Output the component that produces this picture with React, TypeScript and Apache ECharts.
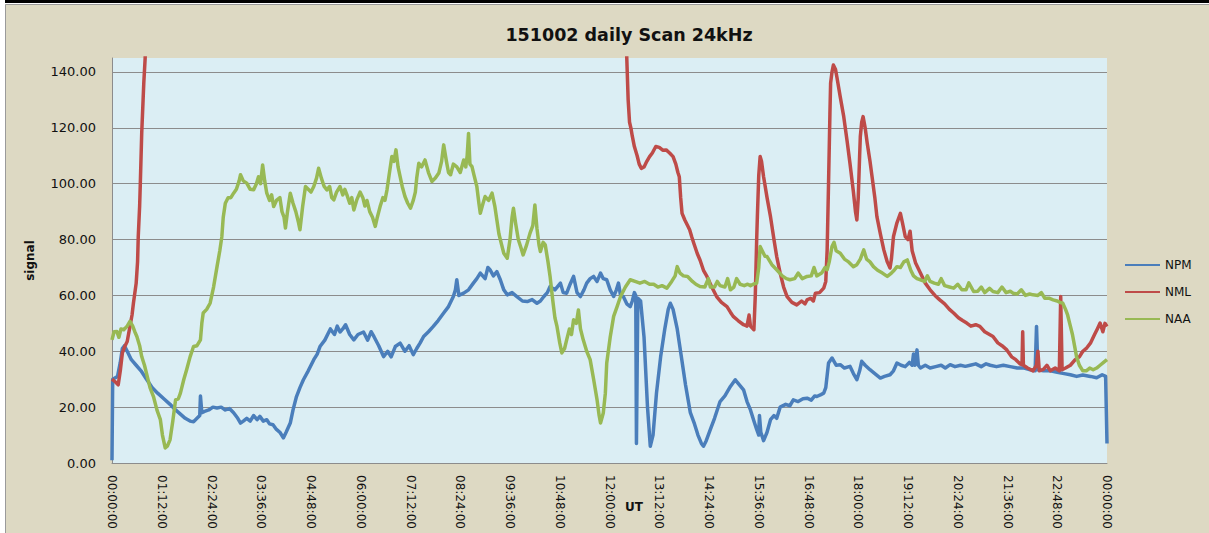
import React, { useEffect, useRef } from "react";
import * as echarts from "echarts";

const chartTitle = "151002 daily Scan 24kHz";
const xAxisTitle = "UT";
const yAxisTitle = "signal";
const seriesNames = ["NPM", "NML", "NAA"];
const seriesColors = ["#4A7EBB", "#BE4B48", "#98B954"];

// time in minutes after 00:00:00 UT, signal value
const npmData: [number, number][] = [
  [0, 1], [1, 30], [8, 31], [12, 36], [15, 41], [18, 42], [22, 40], [28, 37], [35, 35], [42, 33], [50, 30], [58, 27], [66, 25], [75, 23], [84, 21], [92, 19], [99, 17.5], [106, 16], [113, 15], [118, 14.8], [123, 16], [127, 17], [128, 24], [130, 18], [134, 18.5], [140, 19], [146, 20], [152, 19.7], [158, 20], [164, 19], [170, 19.5], [176, 18], [182, 16], [186, 14.3], [190, 15], [195, 16], [200, 15], [205, 17], [210, 15.5], [214, 16.7], [219, 15], [224, 15.5], [228, 14], [233, 13.7], [238, 12], [243, 11], [248, 9], [252, 11], [258, 14.3], [262, 19], [267, 23.8], [272, 27], [277, 29.8], [284, 33], [292, 37], [297, 39], [301, 41.7], [308, 44], [316, 48], [322, 46], [326, 49], [330, 46.9], [334, 48], [338, 49.5], [344, 46], [350, 44.1], [356, 46], [364, 46.9], [370, 44], [375, 47], [379, 45.3], [386, 42], [393, 38.1], [399, 40], [404, 38], [410, 41.7], [417, 42.9], [424, 40], [430, 42], [436, 38.8], [441, 41], [446, 43], [451, 45.3], [458, 47], [465, 48.9], [472, 51], [480, 53.7], [487, 56], [494, 59.6], [497, 62], [499, 65.6], [502, 60], [509, 60.8], [516, 62], [523, 64.4], [528, 66], [533, 68], [540, 66], [544, 70], [547, 69.2], [552, 67], [557, 68.5], [562, 65.6], [567, 62], [572, 60.2], [579, 61], [586, 59.6], [594, 58], [601, 57.8], [608, 58.5], [615, 57.2], [620, 58], [625, 59.6], [630, 61], [634, 63.2], [641, 62], [649, 64.4], [653, 61], [658, 60.8], [663, 64], [668, 66.8], [673, 61], [678, 59.6], [683, 62], [687, 64.4], [692, 66], [697, 66.8], [702, 65], [707, 68], [711, 66], [716, 65.6], [721, 62], [726, 59.6], [730, 62], [733, 64.4], [736, 60], [740, 59.6], [745, 57], [750, 56], [753, 58], [756, 61], [758, 60], [759, 7], [760, 7], [761, 59], [765, 58], [770, 45], [775, 20], [779, 6], [783, 10], [788, 25], [794, 38], [800, 48], [805, 55], [808, 57.2], [812, 55], [818, 48], [824, 38], [830, 28], [837, 18], [843, 14], [848, 10], [853, 7], [856, 6], [860, 8], [866, 12], [872, 16], [880, 22], [887, 24], [895, 27.4], [902, 29.8], [908, 28], [914, 26.2], [919, 22], [924, 19], [929, 15], [933, 12], [936, 10], [937, 17], [939, 11], [943, 8], [948, 11], [953, 15.5], [958, 17], [962, 16], [967, 20], [975, 21], [981, 20.5], [986, 22.6], [993, 22], [1000, 23], [1006, 23.2], [1012, 22.5], [1017, 24], [1020, 23.8], [1026, 24.5], [1030, 25], [1033, 27], [1037, 35.8], [1042, 37.6], [1048, 35], [1054, 35.2], [1060, 34], [1068, 34.6], [1073, 32], [1078, 29.8], [1082, 33], [1085, 36.4], [1090, 35], [1097, 33.4], [1104, 32], [1112, 30.4], [1118, 31], [1126, 31.6], [1131, 33], [1136, 35.8], [1142, 35], [1148, 34.5], [1154, 36], [1158, 35], [1160, 39], [1162, 35], [1165, 40.5], [1167, 35], [1170, 34], [1177, 35], [1184, 34], [1192, 34.5], [1200, 35], [1206, 34], [1213, 35.2], [1220, 34.5], [1228, 35], [1235, 34.6], [1242, 35], [1250, 35.5], [1258, 34.5], [1265, 35.5], [1271, 35], [1280, 34.5], [1290, 35], [1300, 34.5], [1310, 34], [1320, 34], [1329, 33.4], [1336, 33], [1338, 48.9], [1340, 33.4], [1348, 33], [1358, 33], [1368, 32.5], [1378, 32], [1387, 31.6], [1396, 31], [1405, 31.5], [1416, 31], [1425, 30.5], [1433, 31.6], [1438, 31], [1440, 7],
];

const nmlData: [number, number][] = [
  [0, 30], [5, 29], [9, 28], [12, 33], [15, 39.4], [19, 42], [22, 43.5], [26, 48.9], [29, 53], [31, 57.2], [35, 64.4], [37, 72], [38, 81.1], [40, 92], [41, 100.2], [43, 118], [45, 130], [46, 136], [48, 145], [50, 170], [55, 220], [735, 220], [742, 170], [745, 145], [747, 130], [749, 122], [751, 119.9], [753, 117], [756, 113.3], [760, 110], [763, 107], [766, 105.5], [770, 106], [774, 108], [778, 109.7], [782, 111], [787, 113.3], [792, 113], [797, 112], [802, 112.1], [807, 111], [812, 109.7], [816, 107], [819, 104], [821, 102.5], [823, 95], [825, 89.4], [829, 87], [833, 85], [836, 83.5], [839, 81], [842, 78.7], [847, 75], [851, 72.7], [856, 69], [861, 66.8], [868, 63], [875, 59.6], [882, 57.5], [890, 56], [895, 54], [899, 52.5], [906, 51], [914, 49.5], [919, 49], [922, 53], [924, 49], [929, 47.7], [931, 60], [933, 80], [934, 88.2], [936, 103], [938, 109.7], [940, 108], [943, 102.5], [948, 95], [953, 88.2], [958, 80], [962, 73.9], [967, 68], [972, 63], [977, 59.6], [984, 57.5], [991, 56.6], [998, 58], [1003, 57], [1006, 58.4], [1011, 59], [1015, 58], [1018, 60.8], [1024, 61], [1030, 62.6], [1033, 65], [1035, 76.3], [1037, 100], [1039, 125], [1040, 136], [1042, 140], [1044, 142.5], [1047, 141], [1049, 138.3], [1054, 131], [1059, 124], [1064, 115], [1068, 107.3], [1073, 97], [1076, 90], [1078, 87], [1080, 95], [1082, 110], [1083, 116.9], [1085, 122], [1087, 124], [1090, 120], [1093, 114.5], [1097, 108], [1100, 102.5], [1104, 95], [1107, 88.2], [1112, 82], [1117, 76.3], [1122, 72], [1126, 69.8], [1128, 73], [1131, 81.1], [1136, 86], [1141, 89.4], [1144, 86], [1148, 81.1], [1152, 80], [1155, 83], [1158, 76], [1163, 71.6], [1170, 68], [1177, 64.4], [1184, 62], [1191, 60], [1198, 58.4], [1205, 57], [1212, 55], [1218, 53.7], [1225, 52], [1231, 51], [1237, 50.1], [1243, 49], [1250, 49.5], [1256, 48.9], [1263, 47], [1270, 46], [1275, 45.3], [1282, 43], [1288, 42], [1295, 40.5], [1302, 38], [1308, 37], [1314, 35.5], [1317, 35.2], [1318, 47], [1319, 35], [1325, 34], [1333, 33], [1338, 35], [1340, 40], [1342, 33], [1348, 33.5], [1353, 35], [1358, 33], [1365, 34], [1371, 33], [1373, 59.6], [1375, 33.4], [1380, 34], [1387, 35], [1394, 37], [1400, 38], [1405, 40], [1410, 41], [1416, 42.9], [1422, 46], [1426, 48], [1430, 50.1], [1434, 47], [1437, 50], [1440, 48.9],
];

const naaData: [number, number][] = [
  [0, 44.1], [3, 47], [7, 47.1], [10, 45], [13, 48], [17, 47.7], [22, 49], [26, 50.7], [30, 49], [33, 47], [36, 45.3], [40, 42], [43, 38.1], [47, 35], [51, 31], [55, 27], [60, 23.8], [65, 19], [70, 15.5], [73, 10], [77, 5.4], [80, 6], [84, 8.3], [88, 15], [92, 22.6], [96, 23], [99, 25], [104, 30], [108, 33.4], [113, 38], [118, 41.7], [123, 42], [128, 44.1], [130, 50], [132, 53.7], [137, 55], [142, 57.2], [147, 63], [152, 70.3], [156, 76], [159, 81.1], [161, 88], [164, 93], [168, 95], [172, 95], [176, 96.6], [180, 98], [184, 101], [186, 103.2], [190, 101], [195, 100.2], [200, 98], [205, 97.8], [209, 100], [212, 102.5], [215, 100], [218, 106.7], [221, 101], [224, 96.6], [228, 94], [231, 96], [234, 91.8], [238, 94], [243, 95], [246, 90], [249, 88], [251, 84.1], [254, 90], [258, 96.6], [262, 93], [266, 90], [270, 86], [272, 83.5], [276, 92], [280, 99], [284, 98], [288, 97], [292, 99], [296, 102], [299, 105.5], [303, 102], [307, 99], [311, 97.8], [315, 99], [318, 95], [321, 94.2], [325, 97], [330, 99], [334, 96], [337, 98], [340, 96], [344, 93], [347, 95], [350, 90.6], [354, 94], [359, 97], [363, 95], [366, 92], [369, 94], [373, 90], [377, 88], [381, 84.7], [384, 88], [388, 91.8], [392, 95], [395, 94], [398, 97.8], [401, 103], [405, 109.7], [408, 108], [411, 112.1], [414, 106], [417, 102.5], [420, 99], [424, 95.4], [428, 93], [432, 91.2], [436, 94], [439, 97], [441, 102], [444, 107.3], [448, 106], [453, 108.5], [458, 104], [463, 100.8], [468, 102], [473, 103.8], [477, 108], [480, 113.9], [484, 108], [487, 104], [490, 103.2], [494, 107], [499, 106], [504, 104], [509, 108.5], [512, 106], [514, 110], [516, 118], [518, 107], [521, 106.1], [524, 103], [528, 99], [531, 93], [533, 89.4], [537, 93], [540, 95.4], [545, 94], [550, 96.6], [554, 92], [557, 87], [560, 82], [564, 78], [567, 75.1], [572, 73.3], [576, 80], [579, 88], [581, 91.2], [584, 86], [588, 80], [592, 77], [595, 74.5], [600, 78], [605, 82.3], [609, 85], [612, 92.4], [615, 84], [618, 78], [620, 75.7], [624, 79], [627, 78.1], [631, 72], [634, 66.8], [638, 58], [641, 52], [644, 48.9], [648, 43], [651, 39.4], [655, 41], [658, 44.1], [662, 48], [665, 46], [668, 51.3], [672, 50], [675, 54.8], [678, 48], [682, 44.1], [687, 40], [692, 37], [697, 30], [702, 22.6], [705, 17], [707, 14.3], [711, 17.9], [714, 25], [716, 35.8], [721, 45], [726, 52.5], [731, 56], [736, 59.6], [743, 63], [750, 65.6], [757, 65], [764, 64.4], [771, 65], [778, 64], [784, 64], [790, 63], [796, 63.5], [803, 62.6], [810, 65], [815, 67], [818, 70.3], [822, 68], [827, 67], [833, 66.8], [840, 65], [845, 64], [851, 63.2], [858, 63], [863, 66], [866, 63], [872, 63], [876, 65], [880, 63.5], [887, 63], [891, 66], [895, 62], [900, 63], [904, 66], [909, 64], [915, 63.5], [920, 64], [924, 63.5], [928, 64], [933, 64.4], [936, 70], [938, 77.5], [941, 76], [945, 74], [948, 73.9], [955, 71], [962, 69.2], [970, 67], [976, 66], [981, 65.6], [988, 66], [993, 68], [999, 66], [1006, 66.8], [1012, 67], [1016, 70], [1020, 67], [1027, 68], [1032, 70], [1035, 69.2], [1038, 72], [1042, 77.5], [1045, 79], [1048, 76], [1054, 75.1], [1060, 73], [1066, 72], [1073, 70.3], [1078, 71], [1083, 73], [1088, 76.3], [1092, 73], [1097, 72], [1102, 70.3], [1108, 69], [1115, 68], [1122, 66.8], [1128, 68], [1132, 69], [1136, 70.3], [1141, 70], [1146, 72], [1151, 72.7], [1156, 69], [1160, 67], [1165, 66], [1170, 65.6], [1176, 65], [1180, 67], [1184, 65], [1190, 64.4], [1196, 64], [1200, 66], [1205, 63.5], [1212, 63], [1218, 62.6], [1224, 64], [1230, 62], [1236, 62], [1240, 64.5], [1247, 61.4], [1253, 61.5], [1258, 63], [1263, 61], [1270, 62.5], [1275, 61.4], [1282, 61], [1288, 63], [1294, 61], [1300, 61.5], [1304, 60.8], [1310, 60.5], [1316, 62], [1322, 60], [1328, 60.5], [1333, 60.2], [1340, 60], [1345, 61], [1350, 59], [1356, 59], [1362, 58.4], [1368, 58], [1372, 57.5], [1376, 57.2], [1380, 55], [1383, 53], [1386, 50], [1390, 46], [1393, 42], [1396, 38], [1400, 35], [1405, 33], [1410, 33], [1415, 34], [1420, 33.4], [1425, 34], [1430, 35], [1435, 36], [1440, 37],
];

const xMin = 0;
const xMax = 1440;
const xStep = 72;
const yMin = 0;
const yMax = 145;
const yStep = 20;

const pad = (n: number) => (n < 10 ? "0" + n : String(n));
const fmtTime = (v: number) => {
  const m = Math.round(v) % 1440;
  return `${pad(Math.floor(m / 60))}:${pad(m % 60)}:00`;
};

export default function App() {
  const ref = useRef<HTMLDivElement>(null);
  useEffect(() => {
    if (!ref.current) return;
    const chart = echarts.init(ref.current, undefined, { renderer: "svg" });
    const font = "DejaVu Sans";
    const seriesData = [npmData, nmlData, naaData];
    chart.setOption({
      animation: false,
      backgroundColor: "#DDD9C3",
      title: {
        text: chartTitle,
        left: 624,
        textAlign: "center",
        top: 21,
        textStyle: { fontFamily: font, fontWeight: "bold", fontSize: 17.5, color: "#111" },
      },
      graphic: [
        { type: "rect", shape: { x: 0, y: 0, width: 1209, height: 4 }, style: { fill: "#ffffff" }, silent: true },
        { type: "rect", shape: { x: 0, y: 0, width: 1209, height: 3 }, style: { fill: "#000000" }, silent: true },
        { type: "rect", shape: { x: 0, y: 0, width: 5, height: 533 }, style: { fill: "#ffffff" }, silent: true },
        { type: "line", shape: { x1: 5.5, y1: 4.5, x2: 5.5, y2: 533 }, style: { stroke: "#9A9A9A", lineWidth: 1 }, silent: true },
        { type: "line", shape: { x1: 5.5, y1: 4.5, x2: 1209, y2: 4.5 }, style: { stroke: "#9A9A9A", lineWidth: 1 }, silent: true },
      ],
      legend: {
        orient: "vertical",
        left: 1120,
        top: 254,
        itemWidth: 35,
        itemHeight: 14,
        itemGap: 15,
        icon: "path://M0,6 L35,6 L35,8 L0,8 Z",
        data: seriesNames,
        textStyle: { fontFamily: font, fontSize: 12, color: "#111" },
      },
      grid: {
        left: 112,
        top: 58,
        width: 995,
        height: 405,
        outerBoundsMode: "none",
        containLabel: false,
        show: true,
        backgroundColor: "#DBEEF4",
        borderWidth: 0,
      },
      xAxis: {
        type: "value",
        min: xMin,
        max: xMax,
        interval: xStep,
        name: xAxisTitle,
        nameLocation: "middle",
        nameGap: 38,
        nameMoveOverlap: false,
        nameTextStyle: { fontFamily: font, fontWeight: "bold", fontSize: 12, color: "#111", padding: [0, 0, 0, 49] },
        axisLine: { show: true, lineStyle: { color: "#8C8C8C", width: 1 } },
        axisTick: { show: false },
        splitLine: { show: false },
        axisLabel: {
          rotate: -90,
          margin: 12,
          formatter: (v: number) => fmtTime(v),
          fontFamily: font,
          fontSize: 12,
          color: "#111",
          showMinLabel: true,
          showMaxLabel: true,
        },
      },
      yAxis: {
        type: "value",
        min: yMin,
        max: yMax,
        interval: yStep,
        name: yAxisTitle,
        nameLocation: "middle",
        nameGap: 76,
        nameMoveOverlap: false,
        nameTextStyle: { fontFamily: font, fontWeight: "bold", fontSize: 12, color: "#111" },
        axisLine: { show: true, lineStyle: { color: "#8C8C8C", width: 1 } },
        axisTick: { show: false },
        splitLine: { show: true, showMaxLine: false, lineStyle: { color: "#8C8C8C", width: 1 } },
        axisLabel: {
          margin: 16,
          formatter: (v: number) => (v > 140 ? "" : v.toFixed(2)),
          showMaxLabel: false,
          fontFamily: font,
          fontSize: 13,
          color: "#111",
        },
      },
      series: seriesNames.map((name, i) => ({
        name,
        type: "line",
        data: seriesData[i],
        symbol: "none",
        showSymbol: false,
        clip: true,
        color: seriesColors[i],
        lineStyle: { color: seriesColors[i], width: 3.5, join: "round" },
      })),
    });
    return () => chart.dispose();
  }, []);
  return (
    <div
      ref={ref}
      style={{ position: "fixed", left: 0, top: 0, width: 1209, height: 533 }}
    />
  );
}
